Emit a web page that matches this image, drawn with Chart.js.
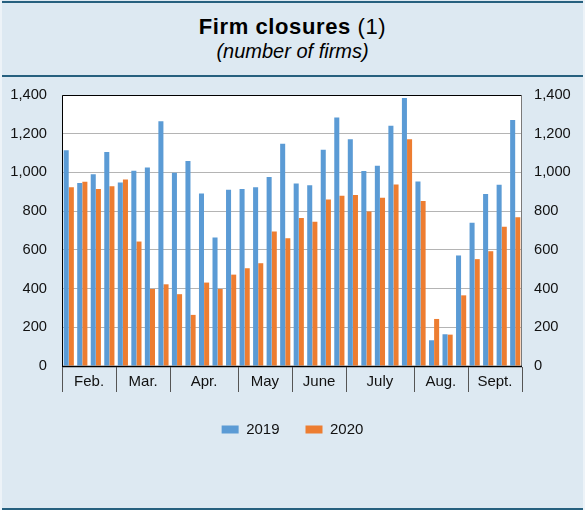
<!DOCTYPE html>
<html>
<head>
<meta charset="utf-8">
<script src="https://cdn.jsdelivr.net/npm/chart.js@4/dist/chart.umd.min.js"></script>
<style>
  html, body { margin: 0; padding: 0; }
  #wrap { position: relative; width: 585px; height: 510px; background: #dde9f2; overflow: hidden; font-family: "Liberation Sans", Arial, sans-serif; }
  .hline { position: absolute; left: 0; width: 585px; background: #26607f; }
  .edge { position: absolute; top: 0; width: 2px; height: 510px; background: #edf3f8; }
  #title { position: absolute; left: 0; width: 585px; top: 16px; text-align: center; font-size: 22px; line-height: 22px; letter-spacing: 0.6px; color: #000; white-space: nowrap; }
  #subtitle { position: absolute; left: 0; width: 585px; top: 41px; text-align: center; font-size: 20px; line-height: 20px; font-style: italic; color: #000; white-space: nowrap; }
  canvas { position: absolute; left: 0; top: 0; }
</style>
</head>
<body>
<div id="wrap">
  <div class="hline" style="top:1px;height:2px;"></div>
  <div class="hline" style="top:75px;height:1.5px;"></div>
  <div class="hline" style="top:508px;height:2px;"></div>
  <div class="edge" style="left:0;"></div>
  <div class="edge" style="left:583px;"></div>
  <div id="title"><b>Firm closures</b> (1)</div>
  <div id="subtitle">(number of firms)</div>
  <canvas id="c" width="585" height="510"></canvas>
</div>
<script>
// ---- data ----
const months = ['Feb.', 'Mar.', 'Apr.', 'May', 'June', 'July', 'Aug.', 'Sept.'];
const weeksPerMonth = [4, 4, 5, 4, 4, 5, 4, 4];
const seriesNames = ['2019', '2020'];
const closures2019 = [1115, 945, 991, 1105, 948, 1009, 1026, 1265, 998, 1059, 891, 664, 910, 914, 924, 976, 1148,
                      943, 934, 1117, 1284, 1172, 1007, 1034, 1241, 1384, 953, 133, 164, 571, 740, 888, 936, 1271];
const closures2020 = [924, 952, 914, 928, 964, 643, 398, 422, 371, 264, 431, 398, 472, 505, 531, 695, 660,
                      764, 745, 860, 879, 883, 798, 869, 938, 1171, 852, 243, 162, 365, 552, 593, 719, 769];
const yTicks = [0, 200, 400, 600, 800, 1000, 1200, 1400];

// week categories built from months
const weekLabels = [];
months.forEach((m, i) => { for (let w = 1; w <= weeksPerMonth[i]; w++) weekLabels.push(m + ' w' + w); });

const FONT = 'Liberation Sans';

const plotBg = {
  id: 'plotBg',
  beforeDraw(chart) {
    const a = chart.chartArea, ctx = chart.ctx;
    ctx.save();
    ctx.fillStyle = '#ffffff';
    ctx.fillRect(a.left, a.top, a.right - a.left, a.bottom - a.top);
    ctx.restore();
  },
  afterDatasetsDraw(chart) {
    const a = chart.chartArea, ctx = chart.ctx;
    ctx.save();
    ctx.lineWidth = 1;
    ctx.strokeStyle = '#000';
    ctx.beginPath();
    ctx.moveTo(a.left + 0.5, a.bottom + 0.5);
    ctx.lineTo(a.left + 0.5, a.top + 0.5);
    ctx.lineTo(a.right - 0.5, a.top + 0.5);
    ctx.stroke();
    ctx.strokeStyle = '#7a7a7a';
    ctx.beginPath();
    ctx.moveTo(a.right - 0.5, a.top + 0.5);
    ctx.lineTo(a.right - 0.5, a.bottom);
    ctx.stroke();
    ctx.strokeStyle = '#000';
    ctx.lineWidth = 1.5;
    ctx.beginPath();
    ctx.moveTo(a.left, a.bottom + 0.5);
    ctx.lineTo(a.right, a.bottom + 0.5);
    ctx.stroke();
    ctx.restore();
  }
};

const monthAxis = {
  id: 'monthAxis',
  afterDraw(chart) {
    const xs = chart.scales.x, a = chart.chartArea, ctx = chart.ctx;
    const n = weekLabels.length;
    const bound = (i) => i === 0 ? xs.left : (i === n ? xs.right : (xs.getPixelForValue(i - 1) + xs.getPixelForValue(i)) / 2);
    ctx.save();
    ctx.strokeStyle = '#555';
    ctx.lineWidth = 1;
    ctx.fillStyle = '#111';
    ctx.font = '15px "' + FONT + '"';
    ctx.textAlign = 'center';
    ctx.textBaseline = 'middle';
    let idx = 0;
    const edges = [bound(0)];
    months.forEach((m, i) => { idx += weeksPerMonth[i]; edges.push(bound(idx)); });
    edges.forEach((x) => {
      const px = Math.round(x) + 0.5;
      ctx.beginPath();
      ctx.moveTo(px, a.bottom + 1);
      ctx.lineTo(px, a.bottom + 26);
      ctx.stroke();
    });
    months.forEach((m, i) => {
      ctx.fillText(m, (edges[i] + edges[i + 1]) / 2, a.bottom + 15.5);
    });
    ctx.restore();
  }
};

const fmt = (v) => v.toLocaleString('en-US');

new Chart(document.getElementById('c'), {
  type: 'bar',
  data: {
    labels: weekLabels,
    datasets: [
      { label: seriesNames[0], data: closures2019, backgroundColor: '#5b9bd5', borderWidth: 0, yAxisID: 'y' },
      { label: seriesNames[1], data: closures2020, backgroundColor: '#ed7d31', borderWidth: 0, yAxisID: 'y' }
    ]
  },
  options: {
    responsive: false,
    devicePixelRatio: 1,
    animation: false,
    events: [],
    datasets: { bar: { categoryPercentage: 0.76, barPercentage: 0.98 } },
    layout: { padding: { top: 95, left: 0, right: 0, bottom: 63 } },
    plugins: {
      title: { display: false },
      tooltip: { enabled: false },
      legend: {
        display: true,
        position: 'bottom',
        labels: {
          boxWidth: 17, boxHeight: 8, padding: 26,
          color: '#111',
          font: { family: FONT, size: 15 }
        }
      }
    },
    scales: {
      x: {
        type: 'category',
        grid: { display: false },
        border: { display: false },
        ticks: { display: false },
        afterFit(s) { s.height = 30; }
      },
      y: {
        position: 'left',
        min: 0, max: 1400,
        afterBuildTicks(s) { s.ticks = yTicks.map(v => ({ value: v })); },
        ticks: { padding: 15, color: '#111', font: { family: FONT, size: 14.7 }, callback: fmt },
        grid: { color: '#b4b4b4', lineWidth: 1, drawTicks: false },
        border: { display: false },
        afterFit(s) { s.width = 62; }
      },
      y2: {
        position: 'right',
        min: 0, max: 1400,
        afterBuildTicks(s) { s.ticks = yTicks.map(v => ({ value: v })); },
        ticks: { padding: 12, color: '#111', font: { family: FONT, size: 14.7 }, callback: fmt },
        grid: { display: false, drawTicks: false },
        border: { display: false },
        afterFit(s) { s.width = 63; }
      }
    }
  },
  plugins: [plotBg, monthAxis]
});
</script>
</body>
</html>
